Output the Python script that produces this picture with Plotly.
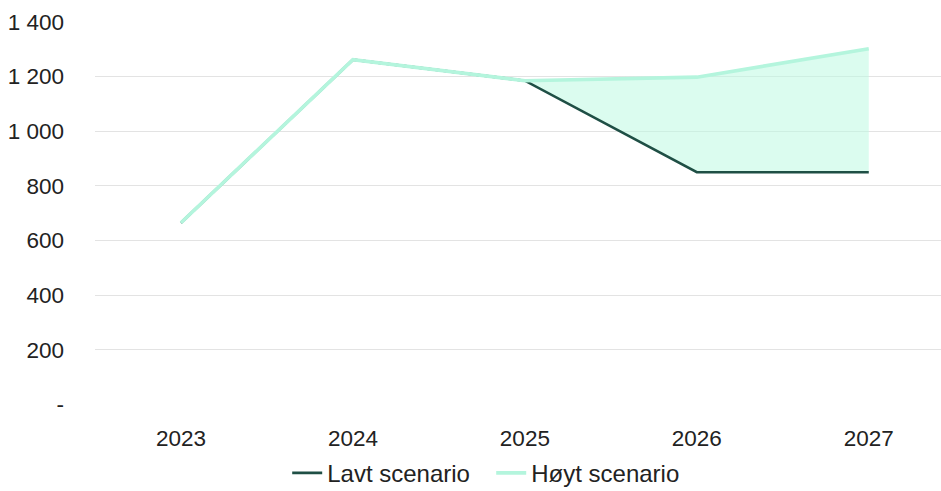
import plotly.graph_objects as go

years = [2023, 2024, 2025, 2026, 2027]
lavt = [665, 1262, 1185, 850, 850]
hoyt = [665, 1262, 1185, 1198, 1302]
y_ticks = [0, 200, 400, 600, 800, 1000, 1200, 1400]
y_labels = ["-", "200", "400", "600", "800", "1 000", "1 200", "1 400"]

DARK = "#1f4f45"
LIGHT = "#b4f5dd"
FILL = "rgba(190,250,226,0.55)"
FONT = "Liberation Sans"

fig = go.Figure()

# band between the two scenarios
fig.add_trace(go.Scatter(x=years, y=lavt, mode="lines", line=dict(width=0),
                         showlegend=False, hoverinfo="skip"))
fig.add_trace(go.Scatter(x=years, y=hoyt, mode="lines", line=dict(width=0),
                         fill="tonexty", fillcolor=FILL,
                         showlegend=False, hoverinfo="skip"))

# scenario lines
fig.add_trace(go.Scatter(x=years, y=lavt, mode="lines", name="Lavt scenario",
                         line=dict(color=DARK, width=2.6)))
fig.add_trace(go.Scatter(x=years, y=hoyt, mode="lines", name="Høyt scenario",
                         line=dict(color=LIGHT, width=3.6)))

fig.update_layout(
    width=941, height=491,
    margin=dict(l=95, r=0, t=22, b=85),
    paper_bgcolor="white", plot_bgcolor="white",
    font=dict(family=FONT, size=22.5, color="#222222"),
    showlegend=True,
    legend=dict(orientation="h", x=0.522, xanchor="center", xref="container",
                y=0.036, yanchor="middle", yref="container",
                font=dict(size=24, color="#222222"),
                itemwidth=30, entrywidth=159, entrywidthmode="pixels",
                traceorder="normal"),
    xaxis=dict(range=[2022.5, 2027.42], tickvals=years,
               ticktext=[str(y) for y in years],
               showgrid=False, zeroline=False, showline=False,
               ticks="", ticklabelstandoff=18),
    yaxis=dict(range=[0, 1400], tickvals=y_ticks, ticktext=y_labels,
               showgrid=True, gridcolor="#e3e3e3", gridwidth=1,
               zeroline=False, showline=False, ticks="",
               ticklabelstandoff=30),
)

fig.write_html("out.html")
